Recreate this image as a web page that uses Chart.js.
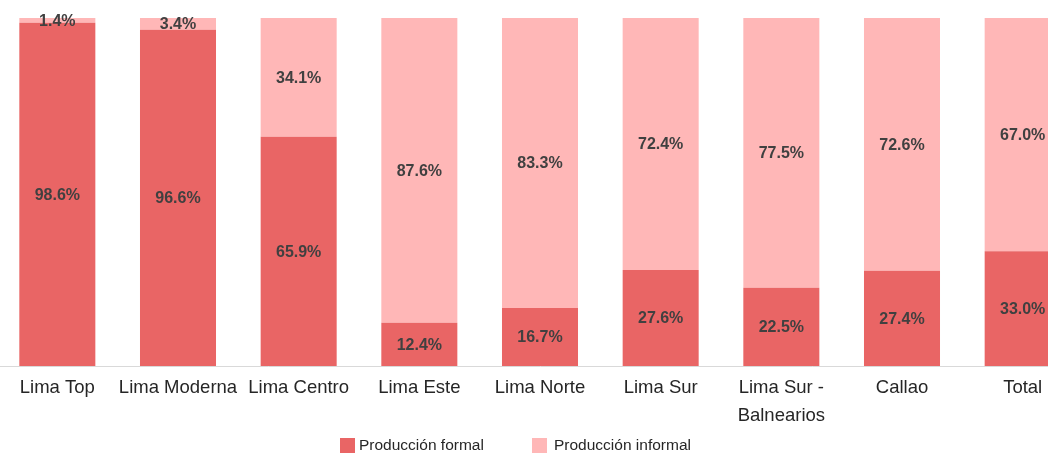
<!DOCTYPE html>
<html>
<head>
<meta charset="utf-8">
<script src="https://cdn.jsdelivr.net/npm/chart.js@4/dist/chart.umd.min.js"></script>
<style>
  html, body { margin: 0; padding: 0; background: #fff; overflow: hidden; }
  body { width: 1048px; height: 454px; position: relative; font-family: "Liberation Sans", Arial, sans-serif; }
  #wrap { position: absolute; left: -3px; top: 0; width: 1086px; height: 454px; }
  .item { position: absolute; top: 437px; height: 17px; font-size: 15.5px; line-height: 15.5px; color: #262626; white-space: nowrap; }
  .item i { position: absolute; left: 0; top: 1px; width: 15px; height: 15px; }
  .item span { position: absolute; top: 0; }
</style>
</head>
<body>
<div id="wrap"><canvas id="grafico"></canvas></div>
<div id="leyenda"></div>
<script>
// zonas de Lima y porcentajes de producción
const zonas = ['Lima Top', 'Lima Moderna', 'Lima Centro', 'Lima Este', 'Lima Norte', 'Lima Sur', ['Lima Sur -', 'Balnearios'], 'Callao', 'Total'];
const formal = [98.6, 96.6, 65.9, 12.4, 16.7, 27.6, 22.5, 27.4, 33.0];
const informal = [1.4, 3.4, 34.1, 87.6, 83.3, 72.4, 77.5, 72.6, 67.0];
const colores = ['#E96565', '#FFB7B7'];
const nombres = ['Producción formal', 'Producción informal'];

// etiquetas de porcentaje dentro de cada segmento
const etiquetas = {
    id: 'etiquetas',
    afterDatasetsDraw(chart) {
        const ctx = chart.ctx;
        ctx.save();
        ctx.font = 'bold 16px "Liberation Sans", Arial, sans-serif';
        ctx.fillStyle = '#404040';
        ctx.textAlign = 'center';
        ctx.textBaseline = 'middle';
        chart.data.datasets.forEach((ds, i) => {
            chart.getDatasetMeta(i).data.forEach((bar, j) => {
                const y = (bar.y + bar.base) / 2;
                ctx.fillText(ds.data[j].toFixed(1) + '%', bar.x, y + 1);
            });
        });
        ctx.restore();
    }
};

// leyenda abajo, como cuadritos con texto
const ley = document.getElementById('leyenda');
const posLeyenda = [[340, 19], [532, 22]];
nombres.forEach((n, i) => {
    const d = document.createElement('div');
    d.className = 'item';
    d.style.left = posLeyenda[i][0] + 'px';
    d.innerHTML = `<i style="background:${colores[i]}"></i><span style="left:${posLeyenda[i][1]}px">${n}</span>`;
    ley.appendChild(d);
});

new Chart(document.getElementById('grafico'), {
    type: 'bar',
    data: {
        labels: zonas,
        datasets: [
            { label: nombres[0], data: formal, backgroundColor: colores[0] },
            { label: nombres[1], data: informal, backgroundColor: colores[1] }
        ]
    },
    options: {
        responsive: true,
        maintainAspectRatio: false,
        animation: false,
        datasets: { bar: { barPercentage: 0.63, categoryPercentage: 1 } },
        layout: { padding: { top: 18, left: 0, right: 0, bottom: 0 } },
        plugins: { legend: { display: false }, tooltip: { enabled: false } },
        scales: {
            x: {
                stacked: true,
                grid: { display: false },
                border: { display: true, color: '#D9D9D9', width: 1 },
                ticks: {
                    color: '#262626',
                    padding: 0,
                    maxRotation: 0,
                    autoSkip: false,
                    font: { family: '"Liberation Sans", Arial, sans-serif', size: 18.5, lineHeight: 1.5 }
                },
                afterFit(scale) { scale.height = 88; }
            },
            y: {
                stacked: true,
                display: false,
                min: 0,
                max: 100
            }
        }
    },
    plugins: [etiquetas]
});
</script>
</body>
</html>
